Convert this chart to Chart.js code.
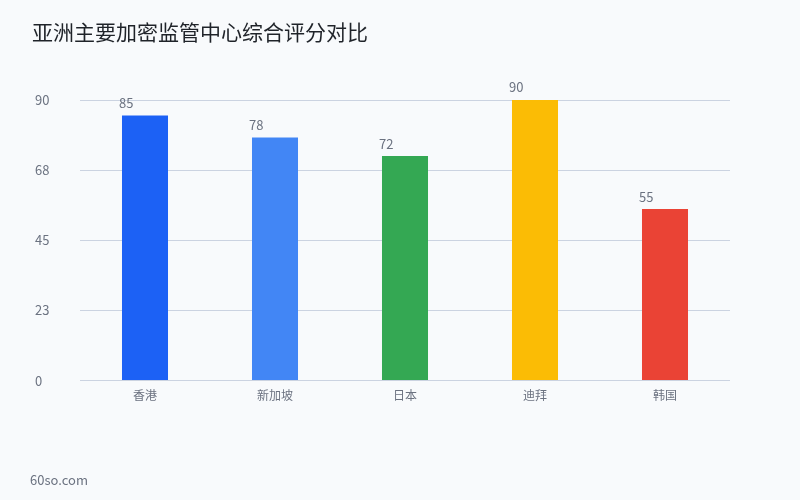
<!DOCTYPE html>
<html>
<head>
<meta charset="utf-8">
<script src="https://cdn.jsdelivr.net/npm/chart.js@4/dist/chart.umd.min.js"></script>
<style>
  html, body { margin: 0; padding: 0; background: #f8fafc; }
  #wrap { position: relative; width: 800px; height: 500px; }
  #title { position: absolute; left: 32px; top: 16px; font: 21px "Noto Sans CJK SC", "Noto Sans", sans-serif; color: #1f2329; }
  #foot { position: absolute; left: 30px; top: 470px; font: 13px "Noto Sans CJK SC", "Noto Sans", sans-serif; color: #6b7280; }
  canvas { position: absolute; left: 0; top: 0; }
</style>
</head>
<body>
<div id="wrap">
  <canvas id="c" width="800" height="500"></canvas>
  <div id="title">亚洲主要加密监管中心综合评分对比</div>
  <div id="foot">60so.com</div>
</div>
<script>
const categories = ['香港', '新加坡', '日本', '迪拜', '韩国'];
const scores = [85, 78, 72, 90, 55];
const barColors = ['#1c61f5', '#4286f5', '#34a853', '#fbbc05', '#ea4335'];
const yMax = 90;
const yStep = 22.5;

const font = '"Noto Sans CJK SC", "Noto Sans", sans-serif';

// value labels sitting above each bar, starting just left of it
const valueLabels = {
  id: 'valueLabels',
  afterDatasetsDraw(chart) {
    const ctx = chart.ctx;
    const meta = chart.getDatasetMeta(0);
    ctx.save();
    ctx.font = '13px ' + font;
    ctx.fillStyle = '#6b7280';
    ctx.textAlign = 'left';
    ctx.textBaseline = 'bottom';
    meta.data.forEach((bar, i) => {
      const left = bar.x - bar.width / 2;
      ctx.fillText(String(scores[i]), left - 3, bar.y - 6);
    });
    ctx.restore();
  }
};

new Chart(document.getElementById('c').getContext('2d'), {
  type: 'bar',
  data: {
    labels: categories,
    datasets: [{
      data: scores,
      backgroundColor: barColors,
      categoryPercentage: 1,
      barPercentage: 0.354
    }]
  },
  options: {
    responsive: false,
    animation: false,
    layout: { padding: { left: 35, right: 70, top: 100, bottom: 97 } },
    plugins: {
      legend: { display: false },
      tooltip: { enabled: false }
    },
    scales: {
      x: {
        grid: { display: false },
        border: { display: false },
        ticks: { color: '#6b7280', font: { family: font, size: 12 }, padding: 0 }
      },
      y: {
        min: 0,
        max: yMax,
        afterFit(scale) { scale.width = 45; },
        grid: { color: '#cbd3e1', drawTicks: false },
        border: { display: false },
        ticks: {
          stepSize: yStep,
          crossAlign: 'far',
          padding: 8,
          color: '#6b7280',
          font: { family: font, size: 13 },
          callback: v => Math.round(v)
        }
      }
    }
  },
  plugins: [valueLabels]
});
</script>
</body>
</html>
